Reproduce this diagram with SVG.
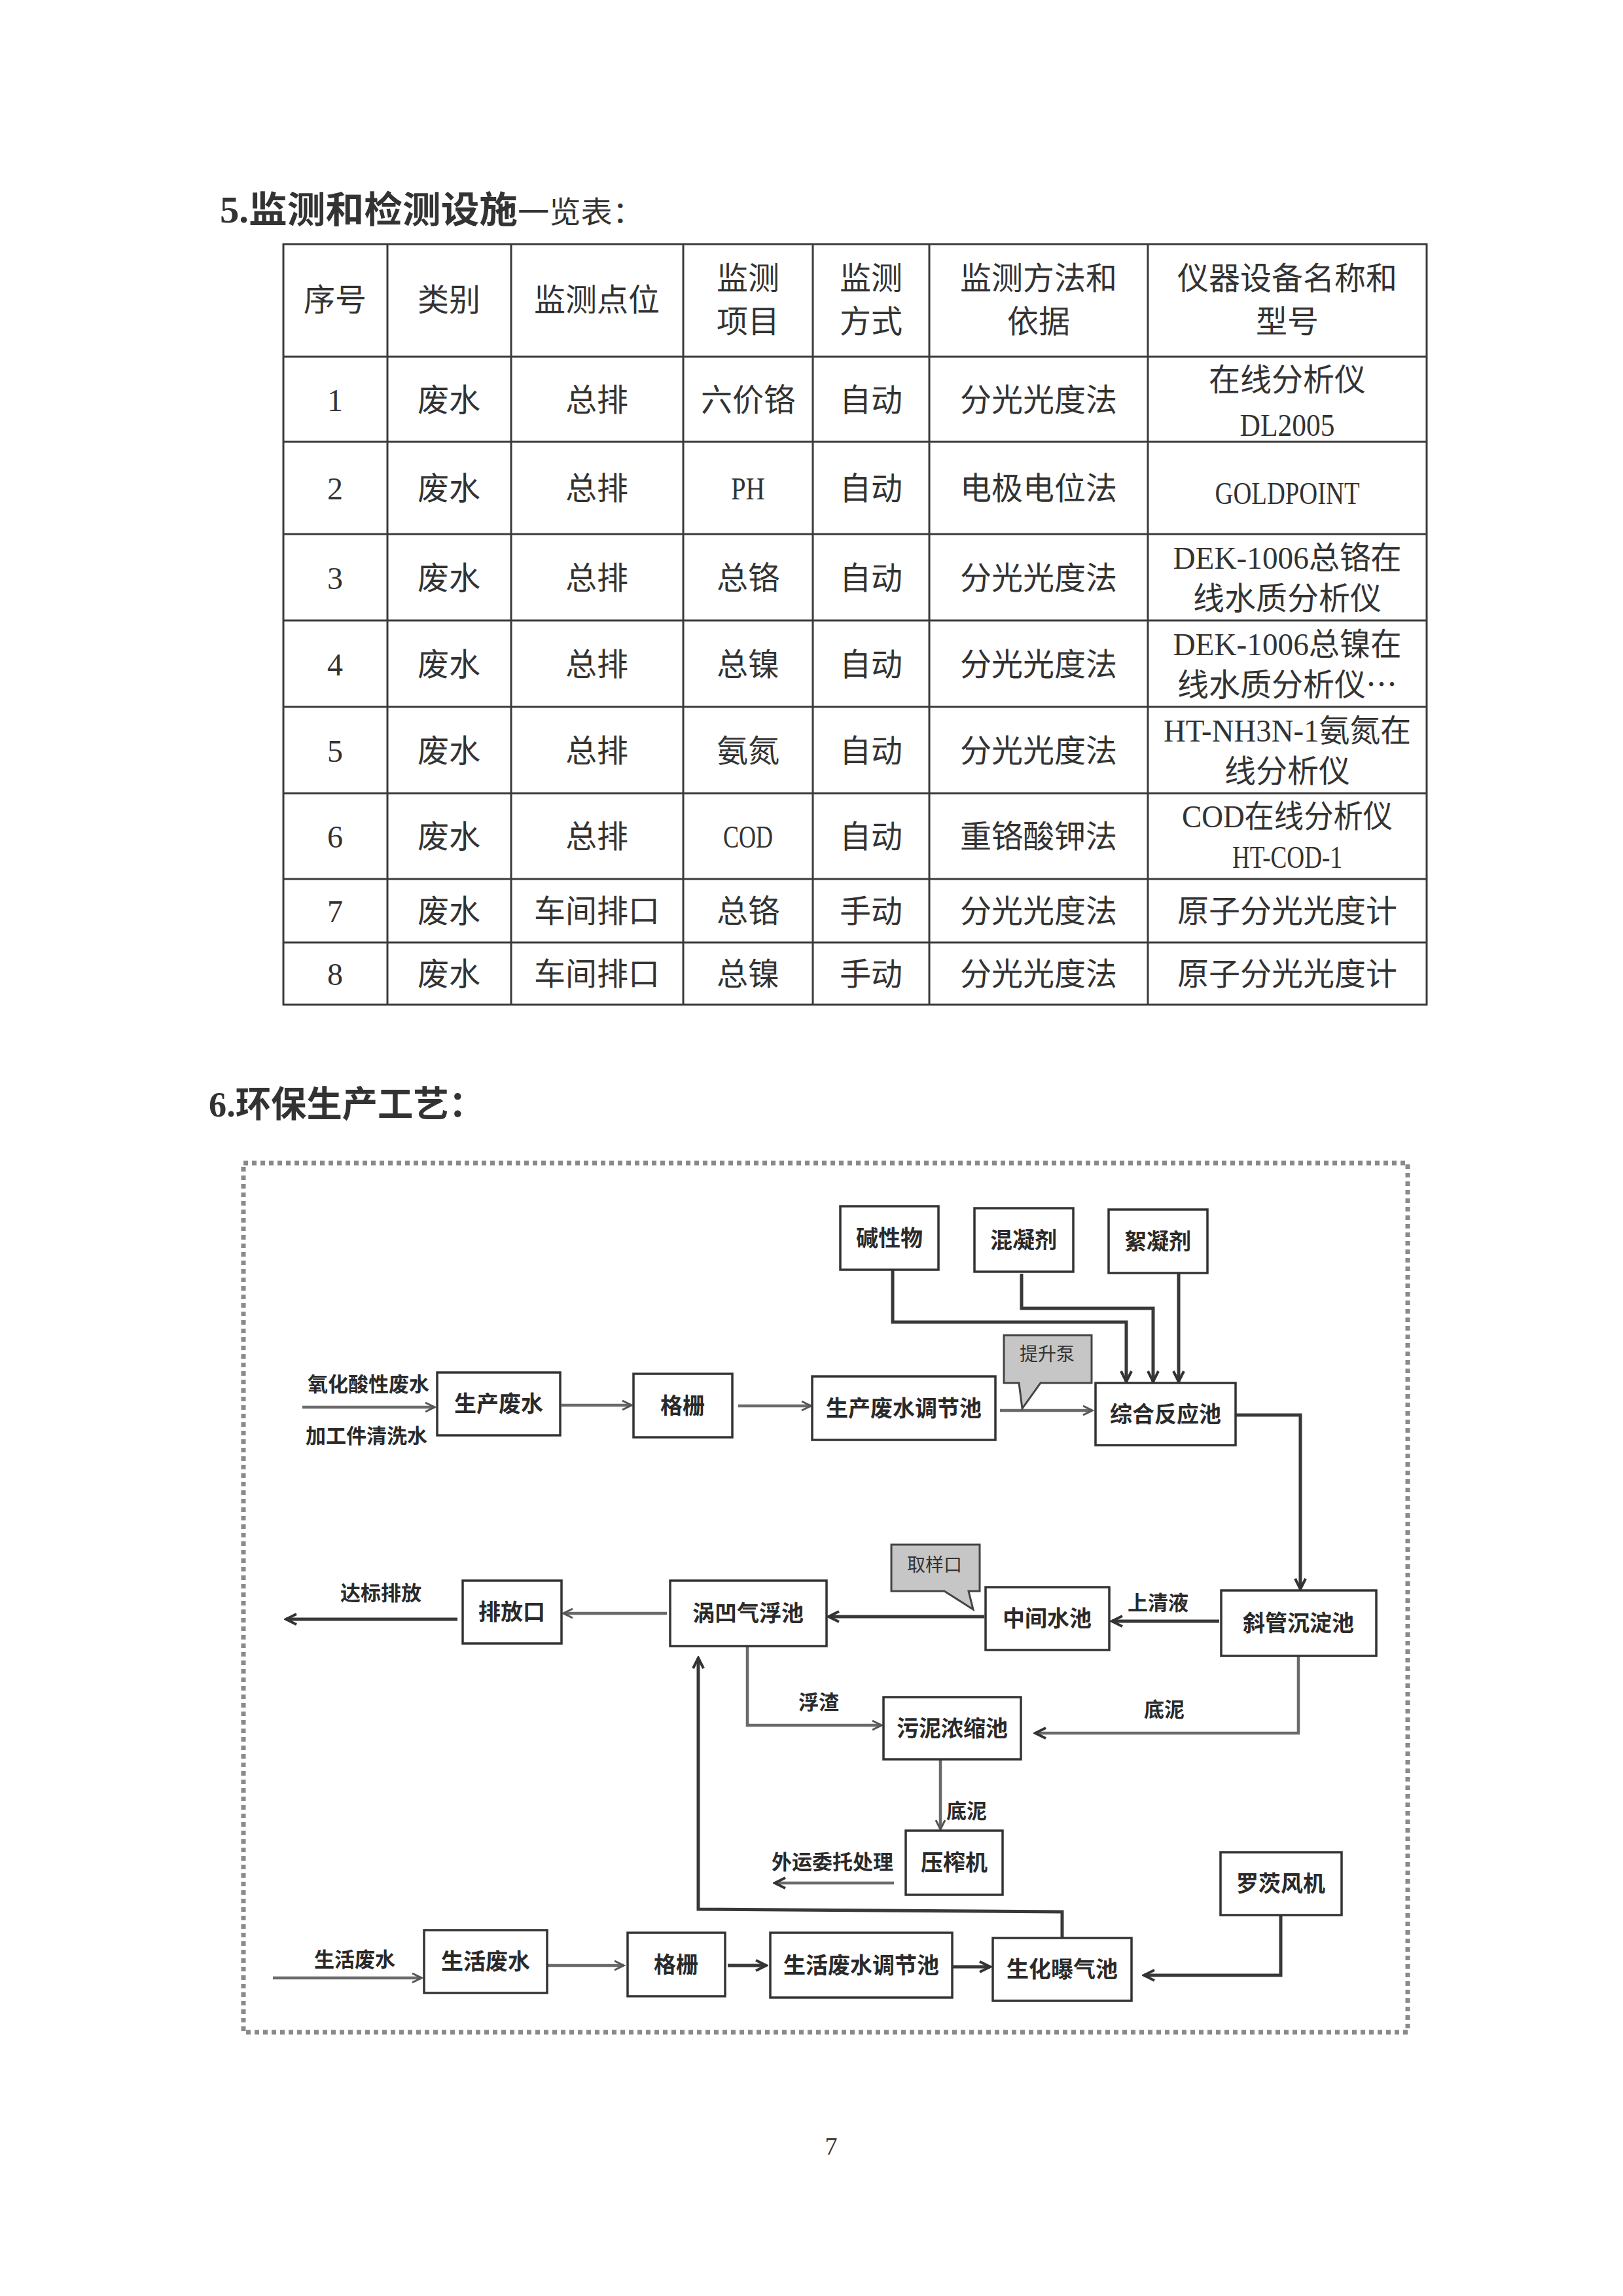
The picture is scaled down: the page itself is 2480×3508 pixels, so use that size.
<svg xmlns="http://www.w3.org/2000/svg" width="2480" height="3508" viewBox="0 0 2480 3508">
<style>
.bg{fill:#ffffff}
.tl{stroke:#3a3a3a;stroke-width:3;fill:none}
.tt{font-family:"Liberation Serif","Noto Sans CJK SC",serif;font-size:48px;fill:#333;text-anchor:middle}
.h1{font-family:"Liberation Serif","Noto Sans CJK SC",serif;font-weight:bold;fill:#333}
.box{fill:#fff;stroke:#333;stroke-width:3.5}
.bt{font-family:"Noto Sans CJK SC",sans-serif;font-size:34px;font-weight:bold;fill:#2a2a2a;text-anchor:middle}
.lb{font-family:"Noto Sans CJK SC",sans-serif;font-size:31px;font-weight:bold;fill:#2a2a2a}
.co{fill:#c6c6c6;stroke:#444;stroke-width:3}
.ct{font-family:"Noto Sans CJK SC",sans-serif;font-size:28px;fill:#333;text-anchor:middle}
.cg{stroke:#6a6a6a;stroke-width:4.5;fill:none}
.cd{stroke:#383838;stroke-width:5;fill:none}
.border{fill:none;stroke:#8a8a8a;stroke-width:7;stroke-dasharray:7 6}
</style>
<defs>
<marker id="ag" viewBox="0 0 20 20" refX="17" refY="10" markerWidth="20" markerHeight="20" markerUnits="userSpaceOnUse" orient="auto">
<path d="M3,3 L17,10 L3,17" fill="none" stroke="#555" stroke-width="3"/>
</marker>
<marker id="ad" viewBox="0 0 22 22" refX="19" refY="11" markerWidth="22" markerHeight="22" markerUnits="userSpaceOnUse" orient="auto">
<path d="M3,3 L19,11 L3,19" fill="none" stroke="#333" stroke-width="4"/>
</marker>
</defs>
<rect class="bg" x="0" y="0" width="2480" height="3508"/>

<text class="h1" x="336" y="340" textLength="648" lengthAdjust="spacingAndGlyphs"><tspan font-size="56">5.监测和检测设施</tspan><tspan font-size="46" font-weight="normal">一览表：</tspan></text>

<g id="table">
<rect class="tl" x="433" y="373" width="1747" height="1162"/>
<g class="tl">
<line x1="592" y1="373" x2="592" y2="1535"/>
<line x1="781" y1="373" x2="781" y2="1535"/>
<line x1="1044" y1="373" x2="1044" y2="1535"/>
<line x1="1242" y1="373" x2="1242" y2="1535"/>
<line x1="1420" y1="373" x2="1420" y2="1535"/>
<line x1="1754" y1="373" x2="1754" y2="1535"/>
<line x1="433" y1="545" x2="2180" y2="545"/>
<line x1="433" y1="675" x2="2180" y2="675"/>
<line x1="433" y1="816" x2="2180" y2="816"/>
<line x1="433" y1="948" x2="2180" y2="948"/>
<line x1="433" y1="1080" x2="2180" y2="1080"/>
<line x1="433" y1="1212" x2="2180" y2="1212"/>
<line x1="433" y1="1343" x2="2180" y2="1343"/>
<line x1="433" y1="1440" x2="2180" y2="1440"/>
</g>
<g class="tt">
<text x="512" y="475">序号</text>
<text x="686" y="475">类别</text>
<text x="912" y="475">监测点位</text>
<text x="1143" y="442">监测</text>
<text x="1143" y="508">项目</text>
<text x="1331" y="442">监测</text>
<text x="1331" y="508">方式</text>
<text x="1587" y="442">监测方法和</text>
<text x="1587" y="508">依据</text>
<text x="1967" y="442">仪器设备名称和</text>
<text x="1967" y="508">型号</text>
<text x="512" y="628">1</text>
<text x="686" y="628">废水</text>
<text x="912" y="628">总排</text>
<text x="1143" y="628">六价铬</text>
<text x="1331" y="628">自动</text>
<text x="1587" y="628">分光光度法</text>
<text x="1967" y="597">在线分析仪</text>
<text x="1967" y="666" textLength="145" lengthAdjust="spacingAndGlyphs">DL2005</text>
<text x="512" y="763">2</text>
<text x="686" y="763">废水</text>
<text x="912" y="763">总排</text>
<text x="1143" y="763" textLength="52" lengthAdjust="spacingAndGlyphs">PH</text>
<text x="1331" y="763">自动</text>
<text x="1587" y="763">电极电位法</text>
<text x="1967" y="770" textLength="221" lengthAdjust="spacingAndGlyphs">GOLDPOINT</text>
<text x="512" y="900">3</text>
<text x="686" y="900">废水</text>
<text x="912" y="900">总排</text>
<text x="1143" y="900">总铬</text>
<text x="1331" y="900">自动</text>
<text x="1587" y="900">分光光度法</text>
<text x="1967" y="869" textLength="349" lengthAdjust="spacingAndGlyphs">DEK-1006总铬在</text>
<text x="1967" y="931">线水质分析仪</text>
<text x="512" y="1032">4</text>
<text x="686" y="1032">废水</text>
<text x="912" y="1032">总排</text>
<text x="1143" y="1032">总镍</text>
<text x="1331" y="1032">自动</text>
<text x="1587" y="1032">分光光度法</text>
<text x="1967" y="1001" textLength="349" lengthAdjust="spacingAndGlyphs">DEK-1006总镍在</text>
<text x="1967" y="1063">线水质分析仪<tspan font-family="Noto Sans CJK SC, sans-serif">…</tspan></text>
<text x="512" y="1164">5</text>
<text x="686" y="1164">废水</text>
<text x="912" y="1164">总排</text>
<text x="1143" y="1164">氨氮</text>
<text x="1331" y="1164">自动</text>
<text x="1587" y="1164">分光光度法</text>
<text x="1967" y="1133" textLength="378" lengthAdjust="spacingAndGlyphs">HT-NH3N-1氨氮在</text>
<text x="1967" y="1195">线分析仪</text>
<text x="512" y="1295">6</text>
<text x="686" y="1295">废水</text>
<text x="912" y="1295">总排</text>
<text x="1143" y="1295" textLength="76" lengthAdjust="spacingAndGlyphs">COD</text>
<text x="1331" y="1295">自动</text>
<text x="1587" y="1295">重铬酸钾法</text>
<text x="1967" y="1264" textLength="322" lengthAdjust="spacingAndGlyphs">COD在线分析仪</text>
<text x="1967" y="1326" textLength="168" lengthAdjust="spacingAndGlyphs">HT-COD-1</text>
<text x="512" y="1409">7</text>
<text x="686" y="1409">废水</text>
<text x="912" y="1409">车间排口</text>
<text x="1143" y="1409">总铬</text>
<text x="1331" y="1409">手动</text>
<text x="1587" y="1409">分光光度法</text>
<text x="1967" y="1409">原子分光光度计</text>
<text x="512" y="1505">8</text>
<text x="686" y="1505">废水</text>
<text x="912" y="1505">车间排口</text>
<text x="1143" y="1505">总镍</text>
<text x="1331" y="1505">手动</text>
<text x="1587" y="1505">分光光度法</text>
<text x="1967" y="1505">原子分光光度计</text>
</g>
</g>

<text class="h1" x="319" y="1706" font-size="55" textLength="421" lengthAdjust="spacingAndGlyphs">6.环保生产工艺：</text>

<rect class="border" x="372" y="1777" width="1779" height="1328"/>

<g id="connectors">
<line class="cg" x1="462" y1="2150" x2="664" y2="2150" marker-end="url(#ag)"/>
<line class="cg" x1="858" y1="2147" x2="965" y2="2147" marker-end="url(#ag)"/>
<line class="cg" x1="1128" y1="2148" x2="1239" y2="2148" marker-end="url(#ag)"/>
<line class="cg" x1="1528" y1="2155" x2="1669" y2="2155" marker-end="url(#ag)"/>
<polyline class="cd" points="1364,1940 1364,2020 1721,2020 1721,2111" marker-end="url(#ad)"/>
<polyline class="cd" points="1561,1946 1561,1999 1762,1999 1762,2111" marker-end="url(#ad)"/>
<polyline class="cd" points="1801,1945 1801,2111" marker-end="url(#ad)"/>
<polyline class="cd" points="1888,2162 1987,2162 1987,2428" marker-end="url(#ad)"/>
<line class="cd" x1="1863" y1="2477" x2="1699" y2="2477" marker-end="url(#ad)"/>
<line class="cd" x1="1504" y1="2470" x2="1266" y2="2470" marker-end="url(#ad)"/>
<line class="cg" x1="1019" y1="2465" x2="861" y2="2465" marker-end="url(#ag)"/>
<line class="cd" x1="699" y1="2474" x2="437" y2="2474" marker-end="url(#ad)"/>
<polyline class="cg" points="1142,2515 1142,2636 1347,2636" marker-end="url(#ag)"/>
<polyline class="cg" points="1984,2530 1984,2648 1582,2648" marker-end="url(#ad)"/>
<line class="cg" x1="1437" y1="2689" x2="1437" y2="2795" marker-end="url(#ag)"/>
<line class="cg" x1="1366" y1="2877" x2="1184" y2="2877" marker-end="url(#ad)"/>
<polyline class="cd" points="1623,2961 1623,2921 1067,2917 1067,2533" marker-end="url(#ad)"/>
<line class="cg" x1="417" y1="3022" x2="644" y2="3022" marker-end="url(#ag)"/>
<line class="cg" x1="837" y1="3003" x2="953" y2="3003" marker-end="url(#ag)"/>
<line class="cd" x1="1112" y1="3003" x2="1171" y2="3003" marker-end="url(#ad)"/>
<line class="cd" x1="1456" y1="3005" x2="1513" y2="3005" marker-end="url(#ad)"/>
<polyline class="cd" points="1957,2926 1957,3018 1748,3018" marker-end="url(#ad)"/>
</g>

<g id="labels">
<text class="lb" x="470" y="2126">氧化酸性废水</text>
<text class="lb" x="467" y="2205" font-size="28">加工件清洗水</text>
<text class="lb" x="520" y="2445">达标排放</text>
<text class="lb" x="1723" y="2460" font-size="32">上清液</text>
<text class="lb" x="1220" y="2612">浮渣</text>
<text class="lb" x="1748" y="2623">底泥</text>
<text class="lb" x="1446" y="2778">底泥</text>
<text class="lb" x="1179" y="2856">外运委托处理</text>
<text class="lb" x="480" y="3005" font-size="32">生活废水</text>
</g>

<g id="nodes">
<g id="n-scfs"><rect class="box" x="668" y="2097" width="188" height="96"/><text class="bt" x="762" y="2157">生产废水</text></g>
<g id="n-gs1"><rect class="box" x="968" y="2099" width="151" height="97"/><text class="bt" x="1043" y="2160">格栅</text></g>
<g id="n-tjc1"><rect class="box" x="1241" y="2103" width="280" height="97"/><text class="bt" x="1381" y="2164">生产废水调节池</text></g>
<g id="n-jxw"><rect class="box" x="1284" y="1843" width="150" height="97"/><text class="bt" x="1359" y="1904">碱性物</text></g>
<g id="n-hnj"><rect class="box" x="1489" y="1846" width="151" height="97"/><text class="bt" x="1564" y="1907">混凝剂</text></g>
<g id="n-xnj"><rect class="box" x="1694" y="1848" width="151" height="97"/><text class="bt" x="1769" y="1909">絮凝剂</text></g>
<g id="n-tsb"><path class="co" d="M1534,2040 H1668 V2113 H1590 L1562,2152 L1557,2113 H1534 Z"/><text class="ct" x="1600" y="2079">提升泵</text></g>
<g id="n-zhfyc"><rect class="box" x="1674" y="2113" width="214" height="95"/><text class="bt" x="1781" y="2173">综合反应池</text></g>
<g id="n-xgcdc"><rect class="box" x="1866" y="2430" width="237" height="100"/><text class="bt" x="1984" y="2492">斜管沉淀池</text></g>
<g id="n-zjsc"><rect class="box" x="1506" y="2425" width="189" height="96"/><text class="bt" x="1600" y="2485">中间水池</text></g>
<g id="n-qyk"><path class="co" d="M1362,2360 H1497 V2431 H1480 L1487,2459 L1443,2431 H1362 Z"/><text class="ct" x="1428" y="2401">取样口</text></g>
<g id="n-wacfc"><rect class="box" x="1024" y="2415" width="239" height="100"/><text class="bt" x="1143" y="2477">涡凹气浮池</text></g>
<g id="n-pfk"><rect class="box" x="707" y="2415" width="151" height="96"/><text class="bt" x="782" y="2475">排放口</text></g>
<g id="n-wnnsc"><rect class="box" x="1350" y="2593" width="210" height="95"/><text class="bt" x="1455" y="2653">污泥浓缩池</text></g>
<g id="n-yzj"><rect class="box" x="1384" y="2797" width="148" height="98"/><text class="bt" x="1458" y="2858">压榨机</text></g>
<g id="n-lcfj"><rect class="box" x="1865" y="2830" width="185" height="96"/><text class="bt" x="1957" y="2890">罗茨风机</text></g>
<g id="n-shbqc"><rect class="box" x="1517" y="2961" width="212" height="96"/><text class="bt" x="1623" y="3021">生化曝气池</text></g>
<g id="n-tjc2"><rect class="box" x="1177" y="2953" width="278" height="99"/><text class="bt" x="1316" y="3015">生活废水调节池</text></g>
<g id="n-gs2"><rect class="box" x="959" y="2953" width="149" height="97"/><text class="bt" x="1033" y="3014">格栅</text></g>
<g id="n-shfs"><rect class="box" x="648" y="2949" width="188" height="96"/><text class="bt" x="742" y="3009">生活废水</text></g>
</g>

<text x="1270" y="3292" font-family="Liberation Serif, serif" font-size="38" fill="#333" text-anchor="middle">7</text>
</svg>
